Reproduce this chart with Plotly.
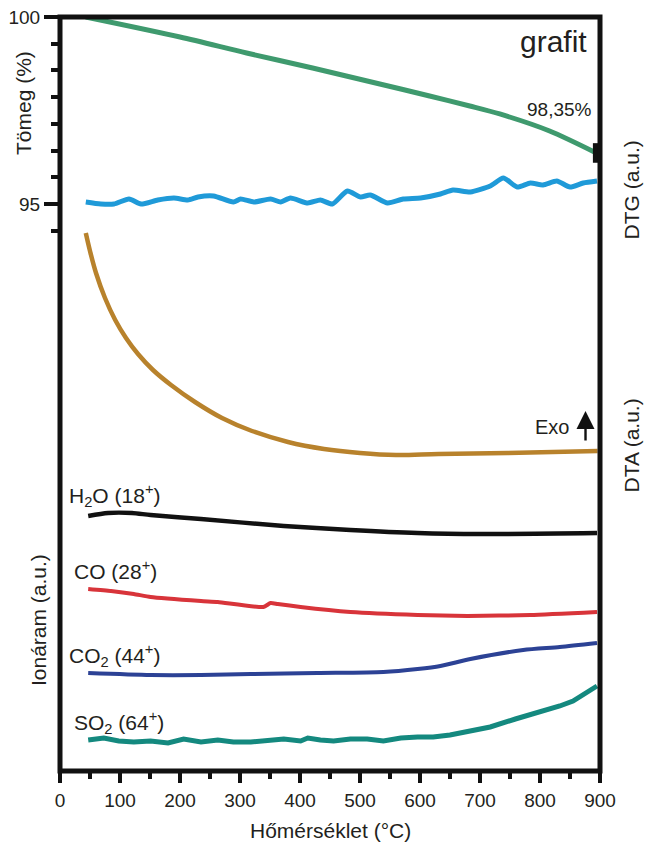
import plotly.graph_objects as go

# ---------------- data ----------------
# Temperature axis
x_ticks = [0, 100, 200, 300, 400, 500, 600, 700, 800, 900]

# TG: mass (%)
mass_T   = [43, 200, 311, 421, 533, 616, 683, 733, 816, 894]
mass_pct = [100.00, 99.757, 99.563, 99.381, 99.187, 99.041, 98.920, 98.823, 98.617, 98.35]

# DTG (a.u.)
dtg_T  = [43, 68, 90, 115, 135, 163, 190, 213, 230, 256, 289, 301, 323, 351, 368, 384, 413, 434,
          454, 479, 501, 517, 546, 572, 601, 634, 655, 684, 717, 739, 762, 784, 805, 828, 850, 872, 895]
dtg_au = [569, 567, 567, 572, 567, 571, 573, 571, 574, 575, 569, 572, 569, 572, 569, 573, 568, 571,
          567, 580, 574, 576, 568, 572, 573, 577, 581, 579, 585, 593, 584, 588, 586, 590, 584, 588, 590]

# DTA (a.u.), exo up
dta_T  = [43, 50, 60, 75, 92, 110, 130, 155, 185, 225, 270, 320, 380, 440, 500, 560, 631, 746, 896]
dta_au = [538, 520, 498, 473, 451, 433, 417, 401, 386, 369, 353, 340, 329, 322, 318, 316, 317, 318, 320]

# MS ion currents (a.u.)
h2o_T  = [47, 80, 120, 151, 235, 373, 484, 596, 700, 895]
h2o_au = [255, 258, 258, 256, 252, 245, 241, 238, 237, 238]

co_T  = [47, 85, 123, 151, 235, 263, 339, 351, 363, 401, 484, 596, 679, 784, 895]
co_au = [182, 180, 177, 174, 170, 169, 164, 168, 167, 164, 159, 156, 155, 156, 159]

co2_T  = [47, 151, 235, 318, 429, 539, 596, 634, 684, 772, 833, 895]
co2_au = [98, 96, 96, 97, 98, 99, 102, 105, 112, 121, 124, 128]

so2_T  = [47, 73, 98, 123, 151, 180, 206, 235, 263, 289, 318, 346, 373, 401, 413, 434, 456, 484,
          512, 539, 568, 596, 622, 650, 684, 717, 759, 800, 833, 855, 875, 895]
so2_au = [31, 33, 30, 29, 30, 28, 32, 29, 31, 29, 29, 31, 32, 30, 33, 31, 30, 32,
          32, 30, 33, 34, 34, 36, 40, 44, 52, 59, 65, 70, 77, 85]

# Left (decorative) mass axis ticks
mass_axis_labels = [100, 95]
mass_axis_minor = [100 - k * 5 / 7 for k in range(1, 9) if k != 7]

# ---------------- figure ----------------
FONT = "Arial, Liberation Sans, sans-serif"
TXT = "#231f20"

fig = go.Figure()

# anchor trace so that the base (left, % scale) subplot exists
fig.add_trace(go.Scatter(x=[], y=[], yaxis="y", showlegend=False, hoverinfo="skip"))

def line(x, y, color, width, axis, shape="spline", smoothing=0.8):
    fig.add_trace(go.Scatter(x=x, y=y, mode="lines", yaxis=axis,
                             line=dict(color=color, width=width, shape=shape, smoothing=smoothing),
                             showlegend=False, hoverinfo="skip"))

line(mass_T, mass_pct, "#3f9a6e", 5, "y3")
fig.add_trace(go.Scatter(x=[mass_T[-1]], y=[mass_pct[-1]], mode="markers", yaxis="y3",
                         marker=dict(symbol="line-ns", size=14, line=dict(color="#111", width=7)),
                         cliponaxis=False, showlegend=False, hoverinfo="skip"))
line(dtg_T, dtg_au, "#1f9ad8", 5, "y2", smoothing=0.6)
line(dta_T, dta_au, "#b8822c", 4.5, "y2", smoothing=1.0)
line(h2o_T, h2o_au, "#111111", 4.5, "y2", smoothing=0.7)
line(co_T, co_au, "#d8343a", 4, "y2", smoothing=0.5)
line(co2_T, co2_au, "#2c4295", 4, "y2", smoothing=0.7)
line(so2_T, so2_au, "#14897f", 5, "y2", shape="linear")

W, H = 645, 843
L, R, T, B = 60, 44.5, 17, 72
pw, ph = W - L - R, H - T - B

def px(xp):
    return (xp - L) / pw

def py(yp):
    return (H - B - yp) / ph

ann = []
def text(t, xp, yp, size=21, xanchor="center", angle=0):
    ann.append(dict(text=t, x=px(xp), y=py(yp), xref="paper", yref="paper",
                    xanchor=xanchor, yanchor="middle", showarrow=False, textangle=angle,
                    font=dict(family=FONT, size=size, color=TXT)))

text("grafit", 589, 42, size=30, xanchor="right")
text("98,35%", 594, 110, size=19, xanchor="right")
text("Exo", 571, 427, size=20, xanchor="right")
text("H<sub>2</sub>O (18<sup>+</sup>)", 67, 495, xanchor="left")
text("CO (28<sup>+</sup>)", 72, 570, xanchor="left")
text("CO<sub>2</sub> (44<sup>+</sup>)", 67, 655, xanchor="left")
text("SO<sub>2</sub> (64<sup>+</sup>)", 72, 722, xanchor="left")
text("Tömeg (%)", 24, 103, angle=-90)
text("Ionáram (a.u.)", 38, 620, angle=-90)
text("DTG (a.u.)", 632, 190, angle=-90)
text("DTA (a.u.)", 632, 445, angle=-90)
text("Hőmérséklet (°C)", 331, 830, size=21)
# Exo arrow
ann.append(dict(x=px(586), y=py(411), xref="paper", yref="paper", ax=0, ay=31,
                showarrow=True, arrowhead=2, arrowsize=1.5, arrowwidth=2.4,
                arrowcolor="#111", text=""))

fig.update_layout(
    width=W, height=H,
    margin=dict(l=L, r=R, t=T, b=B, autoexpand=False),
    paper_bgcolor="white", plot_bgcolor="white",
    showlegend=False,
    font=dict(family=FONT, color=TXT),
    annotations=ann,
    shapes=[dict(type="rect", xref="paper", yref="paper", x0=0, x1=1, y0=0, y1=1,
                 line=dict(color="#111", width=5), layer="above")],
    xaxis=dict(range=[0, 900], tickvals=x_ticks, ticks="outside", ticklen=11, tickwidth=4,
               tickcolor="#111", showline=False, showgrid=False, zeroline=False,
               tickfont=dict(family=FONT, size=19, color=TXT), ticklabelstandoff=1,
               minor=dict(tickmode="array", tickvals=[50, 150, 250, 350, 450, 550, 650, 750, 850],
                          ticks="outside", ticklen=7, tickwidth=4, tickcolor="#111")),
    yaxis=dict(range=[100 - 754 / 37.4, 100], tickvals=mass_axis_labels,
               ticktext=[str(v) for v in mass_axis_labels],
               ticks="outside", ticklen=15, tickwidth=4, tickcolor="#111",
               showline=False, showgrid=False, zeroline=False,
               tickfont=dict(family=FONT, size=19, color=TXT),
               minor=dict(tickmode="array", tickvals=mass_axis_minor, ticks="outside",
                          ticklen=8, tickwidth=4, tickcolor="#111")),
    yaxis2=dict(range=[0, 754], overlaying="y", visible=False),
    yaxis3=dict(range=[100 - 754 / 82.4, 100], overlaying="y", visible=False),
)

fig.write_html("out.html", config={"displayModeBar": False},
               post_script="document.body.style.margin='0';")
